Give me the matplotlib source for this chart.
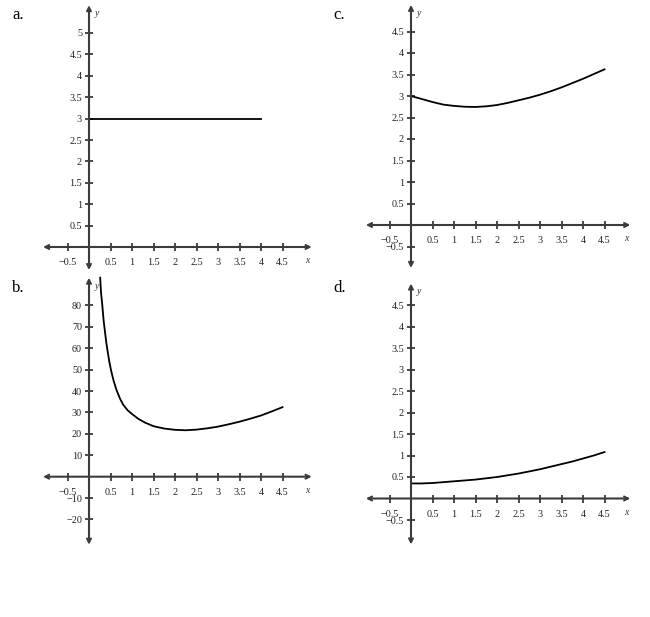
import matplotlib
matplotlib.use("Agg")
import matplotlib.pyplot as plt

plt.rcParams['font.family'] = ['Liberation Serif', 'DejaVu Serif']

# a. constant function
xa = [0, 4]
ya = [3, 3]

# b. steep drop then slow rise
xb = [0.26, 0.28, 0.31, 0.34, 0.37, 0.40, 0.43, 0.47, 0.51, 0.57, 0.64, 0.72, 0.80, 0.90,
      1.0, 1.15, 1.3, 1.5, 1.75, 2.0, 2.25, 2.5, 2.75, 3.0, 3.25, 3.5, 3.75, 4.0, 4.25, 4.5]
yb = [93, 86, 80, 73, 68, 63, 59, 54, 50, 45, 40.5, 36.5, 33.5, 31,
      29.3, 27, 25.3, 23.6, 22.5, 21.9, 21.7, 22, 22.6, 23.4, 24.5, 25.7, 27.1, 28.6, 30.5, 32.5]

# c. shallow dip
xc = [0, 0.25, 0.5, 0.75, 1, 1.25, 1.5, 1.75, 2, 2.25, 2.5, 2.75, 3, 3.25, 3.5, 3.75, 4, 4.25, 4.5]
yc = [3.0, 2.93, 2.86, 2.8, 2.77, 2.75, 2.745, 2.76, 2.79, 2.84, 2.9, 2.96, 3.03, 3.11, 3.2,
      3.3, 3.4, 3.51, 3.62]

# d. slow growth
xd = [0, 0.25, 0.5, 0.75, 1, 1.25, 1.5, 1.75, 2, 2.25, 2.5, 2.75, 3, 3.25, 3.5, 3.75, 4, 4.25, 4.5]
yd = [0.35, 0.35, 0.36, 0.38, 0.40, 0.42, 0.44, 0.47, 0.50, 0.54, 0.58, 0.63, 0.68, 0.74, 0.80,
      0.86, 0.93, 1.0, 1.08]

# tick values and labels
xticks = [-0.5, 0.5, 1, 1.5, 2, 2.5, 3, 3.5, 4, 4.5]
xtick_labels = ['\u22120.5', '0.5', '1', '1.5', '2', '2.5', '3', '3.5', '4', '4.5']
yticks_a = [0.5, 1, 1.5, 2, 2.5, 3, 3.5, 4, 4.5, 5]
ytick_labels_a = ['0.5', '1', '1.5', '2', '2.5', '3', '3.5', '4', '4.5', '5']
yticks_b = [-20, -10, 10, 20, 30, 40, 50, 60, 70, 80]
ytick_labels_b = ['\u221220', '\u221210', '10', '20', '30', '40', '50', '60', '70', '80']
yticks_cd = [-0.5, 0.5, 1, 1.5, 2, 2.5, 3, 3.5, 4, 4.5]
ytick_labels_cd = ['\u22120.5', '0.5', '1', '1.5', '2', '2.5', '3', '3.5', '4', '4.5']

W, H = 650, 617
AX_COLOR = '#3c3c3c'

fig = plt.figure(figsize=(6.5, 6.17), dpi=100)


def make_panel(origin, scale, xlim, ylim):
    ox, oy = origin
    sx, sy = scale
    left = ox + xlim[0] * sx
    right = ox + xlim[1] * sx
    top = oy - ylim[1] * sy
    bottom = oy - ylim[0] * sy
    ax = fig.add_axes([left / W, 1 - bottom / H, (right - left) / W, (bottom - top) / H])
    ax.set_xlim(*xlim)
    ax.set_ylim(*ylim)
    ax.patch.set_alpha(0)
    for s in ['top', 'right']:
        ax.spines[s].set_visible(False)
    ax.spines['left'].set_position(('data', 0))
    ax.spines['bottom'].set_position(('data', 0))
    ax.spines['left'].set_color('none')
    ax.spines['bottom'].set_color('none')
    ax.tick_params(direction='inout', length=6, width=1.3, color=AX_COLOR,
                   labelsize=7.3, labelcolor='#222222')
    ax.tick_params(axis='x', pad=5)
    ax.tick_params(axis='y', pad=2)
    arrow = dict(arrowstyle='<->', lw=1.5, color=AX_COLOR, shrinkA=0, shrinkB=0,
                 mutation_scale=7)
    ax.annotate('', xy=(xlim[1], 0), xytext=(xlim[0], 0), arrowprops=arrow,
                annotation_clip=False)
    ax.annotate('', xy=(0, ylim[1]), xytext=(0, ylim[0]), arrowprops=arrow,
                annotation_clip=False)
    ax.annotate('y', xy=(0, ylim[1]), xytext=(4, -6), textcoords='offset points',
                fontsize=7, style='italic', va='center', ha='left', color='#333333')
    ax.annotate('x', xy=(xlim[1], 0), xytext=(-3, -10), textcoords='offset points',
                fontsize=7, style='italic', va='center', ha='center', color='#333333')
    return ax


# a
ax = make_panel((89, 247), (43, 42.8), (-1.07, 5.18), (-0.54, 5.65))
ax.set_xticks(xticks, xtick_labels)
ax.set_yticks(yticks_a, ytick_labels_a)
ax.plot(xa, ya, color='black', lw=1.3)

# b
ax = make_panel((89, 476.7), (43, 2.14), (-1.07, 5.18), (-31.8, 93))
ax.set_xticks(xticks, xtick_labels)
ax.set_yticks(yticks_b, ytick_labels_b)
ax.plot(xb, yb, color='black', lw=1.3, clip_on=False)

# c
ax = make_panel((411, 225), (43, 43), (-1.05, 5.1), (-1.0, 5.12))
ax.set_xticks(xticks, xtick_labels)
ax.set_yticks(yticks_cd, ytick_labels_cd)
ax.plot(xc, yc, color='black', lw=1.3)

# d
ax = make_panel((411, 498.5), (43, 43), (-1.05, 5.1), (-1.07, 5.0))
ax.set_xticks(xticks, xtick_labels)
ax.set_yticks(yticks_cd, ytick_labels_cd)
ax.plot(xd, yd, color='black', lw=1.3)

# panel letters
for lab, (px, py) in {'a.': (12, 15), 'b.': (12, 288), 'c.': (333, 15), 'd.': (333, 288)}.items():
    fig.text(px / W, 1 - py / H, lab, fontsize=12, va='center', ha='left')

fig.savefig('out.png', dpi=100)
